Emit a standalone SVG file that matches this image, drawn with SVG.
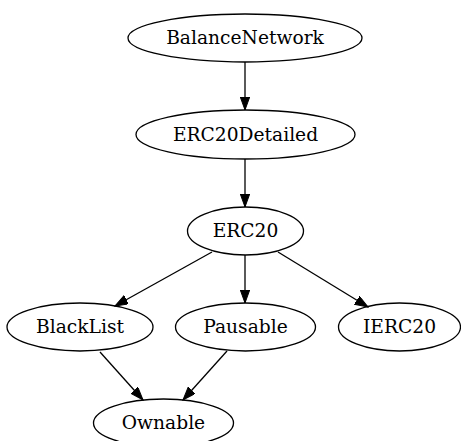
<svg xmlns="http://www.w3.org/2000/svg" width="461" height="441" viewBox="0 0 461 441">
<style>
  .node ellipse { fill: none; stroke: #000; stroke-width: 1.3; }
  .node text { font-family: "DejaVu Serif", "Liberation Serif", serif; font-size: 18.67px; fill: #000; text-anchor: middle; }
  .edges line { stroke: #000; stroke-width: 1.3; marker-end: url(#arrow); }
</style>
<defs>
  <marker id="arrow" markerUnits="userSpaceOnUse" markerWidth="14" markerHeight="10" refX="13" refY="4.7" orient="auto">
    <path d="M0,0 L13,4.7 L0,9.4 z" fill="#000" stroke="#000" stroke-width="1"/>
  </marker>
</defs>
<rect width="461" height="441" fill="#fff"/>
<g class="edges">
  <line x1="245" y1="62" x2="245" y2="110"/>
  <line x1="245" y1="159" x2="245" y2="207"/>
  <line x1="212" y1="252" x2="115" y2="306"/>
  <line x1="245" y1="255" x2="245" y2="303"/>
  <line x1="278" y1="252" x2="368" y2="307"/>
  <line x1="100" y1="352" x2="143" y2="400"/>
  <line x1="227" y1="351" x2="183" y2="400"/>
</g>
<g id="BalanceNetwork" class="node">
  <ellipse cx="245" cy="38" rx="117" ry="24"/>
  <text x="245" y="44">BalanceNetwork</text>
</g>
<g id="ERC20Detailed" class="node">
  <ellipse cx="245.5" cy="134.5" rx="109.5" ry="24.5"/>
  <text x="245.5" y="140.5">ERC20Detailed</text>
</g>
<g id="ERC20" class="node">
  <ellipse cx="245.5" cy="231" rx="58" ry="24"/>
  <text x="245.5" y="237">ERC20</text>
</g>
<g id="BlackList" class="node">
  <ellipse cx="80" cy="327" rx="73" ry="24"/>
  <text x="80" y="333">BlackList</text>
</g>
<g id="Pausable" class="node">
  <ellipse cx="245.5" cy="327" rx="70" ry="24"/>
  <text x="245.5" y="333">Pausable</text>
</g>
<g id="IERC20" class="node">
  <ellipse cx="399.5" cy="327" rx="61" ry="24"/>
  <text x="399.5" y="333">IERC20</text>
</g>
<g id="Ownable" class="node">
  <ellipse cx="163.5" cy="423" rx="70" ry="24"/>
  <text x="163.5" y="429">Ownable</text>
</g>
</svg>
